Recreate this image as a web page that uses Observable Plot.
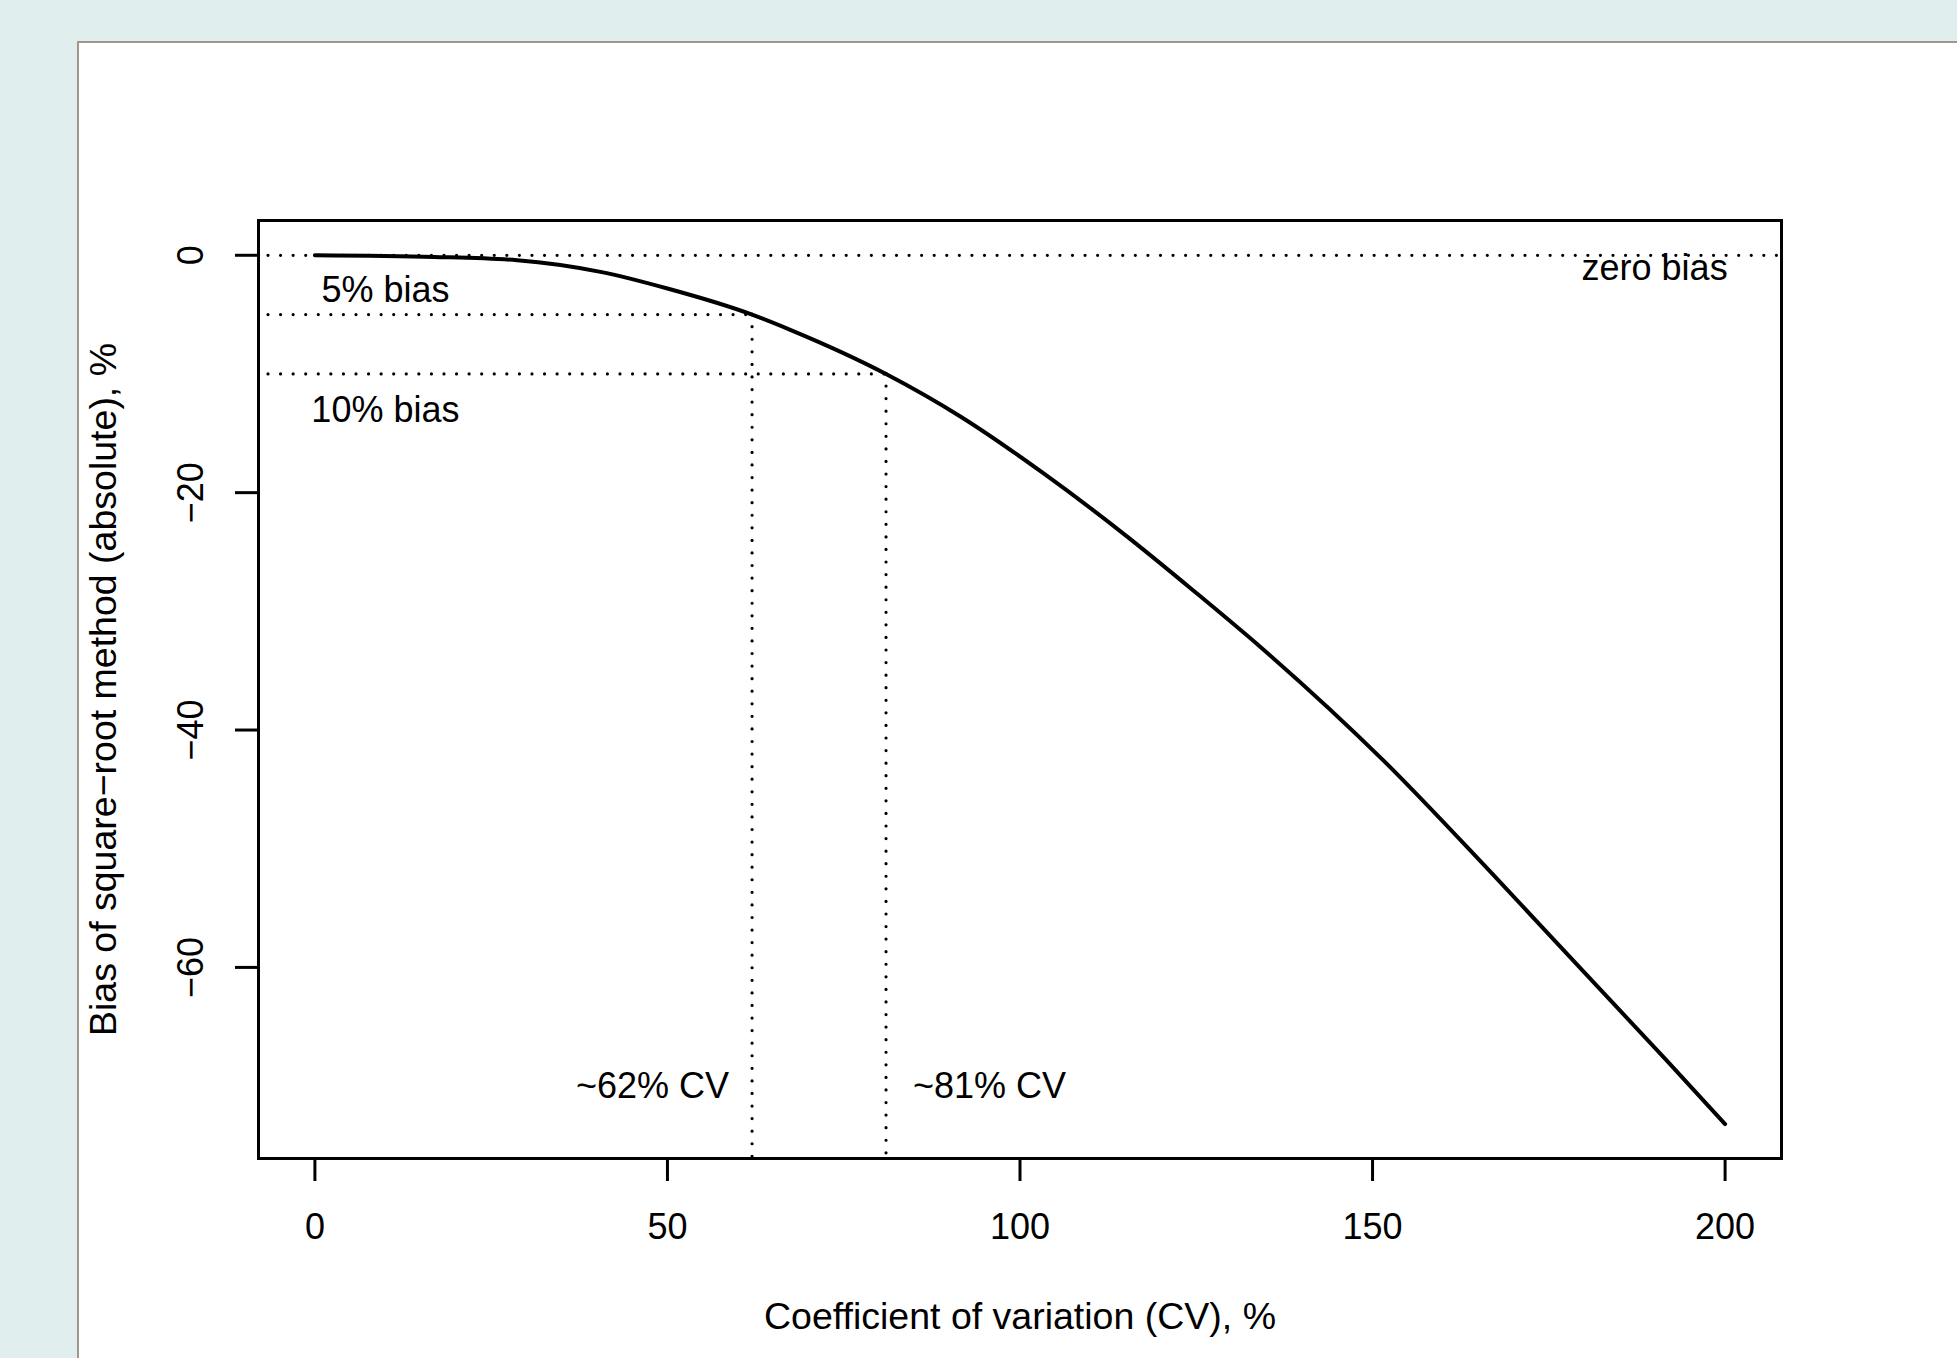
<!DOCTYPE html>
<html>
<head>
<meta charset="utf-8">
<script src="https://cdn.jsdelivr.net/npm/d3@7"></script>
<script src="https://cdn.jsdelivr.net/npm/@observablehq/plot@0.6"></script>
<style>
  html, body { margin: 0; padding: 0; }
  body { width: 1957px; height: 1358px; background: #e0eeee; position: relative; overflow: hidden;
         font-family: "Liberation Sans", Arial, sans-serif; }
  #panel { position: absolute; left: 77px; top: 41px; width: 1900px; height: 1340px;
           background: #ffffff; border: 2px solid #a0978c; box-sizing: border-box; }
  #chart { position: absolute; left: 0; top: 0; }
</style>
</head>
<body>
<div id="panel"></div>
<div id="chart"></div>
<script>
// Curve values (CV %, bias %)
const cv   = [0, 16.9, 28.7, 40.5, 50, 62, 67.5, 81, 91.6, 103.4, 115.2, 124.7, 134.1, 151.6, 166.8, 180, 191.8, 200];
const bias = [0, -0.14, -0.42, -1.4, -2.8, -5.0, -6.3, -10.0, -13.6, -18.4, -23.7, -28.3, -33.0, -42.6, -52.0, -60.4, -67.9, -73.2];

// Axis ticks
const xTicks = [0, 50, 100, 150, 200];
const yTicks = [0, -20, -40, -60];
const yTickLabels = ["0", "\u221220", "\u221240", "\u221260"];

// Domains (R-style 4% expansion)
const xDomain = [-8, 208];
const yDomain = [-76.1, 2.93];

// Reference lines
const hBiasLevels = [0, -5, -10];
const hBiasEnds   = [208, 62, 81];
const vCvLevels   = [62, 81];
const vCvTops     = [-5, -10];

// Annotations
const noteText = ["zero bias", "5% bias", "10% bias"];
const noteX    = [190, 10, 10];
const noteY    = [-1.1, -3.0, -13.1];
const cvNotes  = ["~62% CV", "~81% CV"];
const cvNoteY  = -70;

const curve = cv.map((x, i) => ({x, y: bias[i]}));
const hLines = hBiasLevels.map((y, i) => ({y, x1: xDomain[0], x2: hBiasEnds[i]}));
const vLines = vCvLevels.map((x, i) => ({x, y1: vCvTops[i], y2: yDomain[0]}));
const notes = noteText.map((t, i) => ({t, x: noteX[i], y: noteY[i]}));

const FS = 36;
const FT = 37.5;
const dotted = {stroke: "black", strokeWidth: 3.2, strokeDasharray: "0,12.57", strokeLinecap: "round"};

const plot = Plot.plot({
  width: 1957,
  height: 1358,
  marginLeft: 258,
  marginRight: 176,
  marginTop: 220,
  marginBottom: 200,
  style: {background: "transparent", fontFamily: "'Liberation Sans', Arial, sans-serif", color: "black", overflow: "visible"},
  x: {domain: xDomain},
  y: {domain: yDomain},
  marks: [
    Plot.ruleY(hLines, {y: "y", x1: "x1", x2: "x2", ...dotted, strokeDashoffset: 2.57}),
    Plot.ruleX(vLines, {x: "x", y1: "y1", y2: "y2", ...dotted}),
    Plot.line(curve, {x: "x", y: "y", stroke: "black", strokeWidth: 4, curve: "monotone-x"}),
    Plot.text(notes, {x: "x", y: "y", text: "t", fontSize: FS, fill: "black", textAnchor: "middle", lineAnchor: "middle"}),
    Plot.text([cvNotes[0]], {x: vCvLevels[0], y: cvNoteY, text: d => d, fontSize: FS, fill: "black", textAnchor: "end", lineAnchor: "middle", dx: -23}),
    Plot.text([cvNotes[1]], {x: vCvLevels[1], y: cvNoteY, text: d => d, fontSize: FS, fill: "black", textAnchor: "start", lineAnchor: "middle", dx: 27}),
    Plot.frame({stroke: "black", strokeWidth: 3}),
    Plot.axisX({ticks: xTicks, tickSize: 23, tickPadding: 32, fontSize: FS, strokeWidth: 3, label: null, tickFormat: d => String(d)}),
    Plot.axisY({ticks: yTicks, tickSize: 23, tickFormat: () => "", strokeWidth: 3, label: null}),
    Plot.text(yTicks, {x: xDomain[0], y: d => d, text: (d, i) => yTickLabels[i], rotate: -90, dx: -67.5, fontSize: FS, fill: "black", textAnchor: "middle", lineAnchor: "middle"}),
    Plot.text(["Coefficient of variation (CV), %"], {frameAnchor: "bottom", dy: 158.6, fontSize: FT, fill: "black", lineAnchor: "middle"}),
    Plot.text(["Bias of square\u2212root method (absolute), %"], {frameAnchor: "left", dx: -154.4, rotate: -90, fontSize: FT, fill: "black", textAnchor: "middle", lineAnchor: "middle"})
  ]
});
document.getElementById("chart").appendChild(plot);
</script>
</body>
</html>
